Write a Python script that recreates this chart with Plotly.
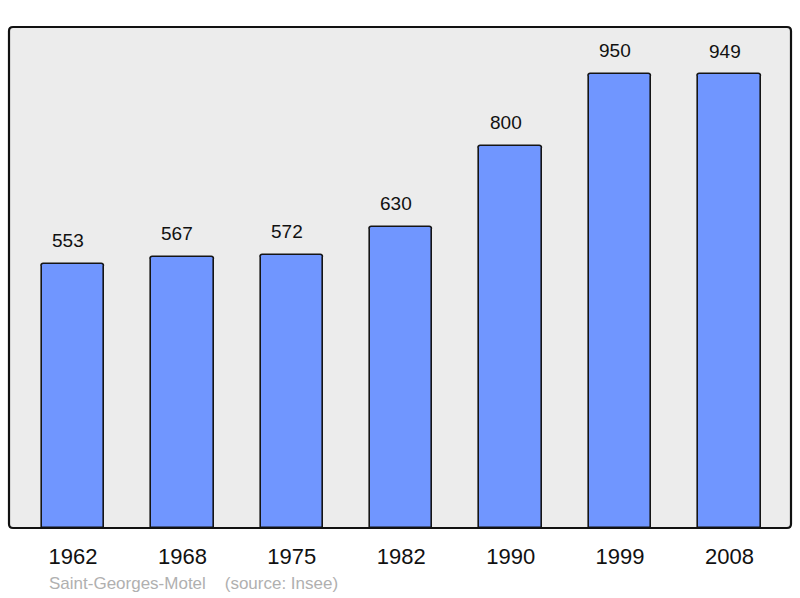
import plotly.graph_objects as go

years = ["1962", "1968", "1975", "1982", "1990", "1999", "2008"]
population = [553, 567, 572, 630, 800, 950, 949]
footer_text = "Saint-Georges-Motel    (source: Insee)"

W, H = 800, 598
L, R, T, B = 9, 9, 27, 70
PW, PH = W - L - R, H - T - B

fig = go.Figure()
fig.add_trace(go.Bar(
    x=list(range(len(years))),
    y=population,
    width=0.57,
    marker=dict(color="#7096ff", line=dict(color="#151515", width=1.6), cornerradius=3),
    hoverinfo="skip",
))

for i, v in enumerate(population):
    fig.add_annotation(x=i, y=v, text=str(v), showarrow=False, yshift=23, xshift=-5,
                       xanchor="center", yanchor="middle",
                       font=dict(size=19, color="#111111", family="Liberation Sans, Arial, sans-serif"))

fig.add_annotation(xref="paper", yref="paper", x=(47 - L) / PW, y=-(583 - 528) / PH,
                   text=footer_text, showarrow=False, xanchor="left", yanchor="middle",
                   font=dict(size=17, color="#b0b0b0", family="Liberation Sans, Arial, sans-serif"))

# rounded frame
rx, ry = 4 / PW, 4 / PH
path = (f"M {rx},0 L {1-rx},0 Q 1,0 1,{ry} L 1,{1-ry} Q 1,1 {1-rx},1 "
        f"L {rx},1 Q 0,1 0,{1-ry} L 0,{ry} Q 0,0 {rx},0 Z")
fig.add_shape(type="path", xref="paper", yref="paper", path=path,
              line=dict(color="#111111", width=2.2), layer="above")

fig.update_layout(
    width=W, height=H,
    margin=dict(l=L, r=R, t=T, b=B),
    paper_bgcolor="white",
    plot_bgcolor="#ececec",
    showlegend=False,
    bargap=0,
    xaxis=dict(range=[-0.585, 6.562], tickmode="array", tickvals=list(range(len(years))), ticktext=years,
               showgrid=False, zeroline=False, showline=False, ticks="", fixedrange=True,
               ticklabelstandoff=13,
               tickfont=dict(size=22, color="#111111", family="Liberation Sans, Arial, sans-serif")),
    yaxis=dict(range=[0, 1048], showgrid=False, zeroline=False, showline=False,
               showticklabels=False, ticks="", fixedrange=True),
)

fig.write_html("out.html", config={"displayModeBar": False},
               post_script="document.body.style.margin='0';document.body.style.overflow='hidden';")
